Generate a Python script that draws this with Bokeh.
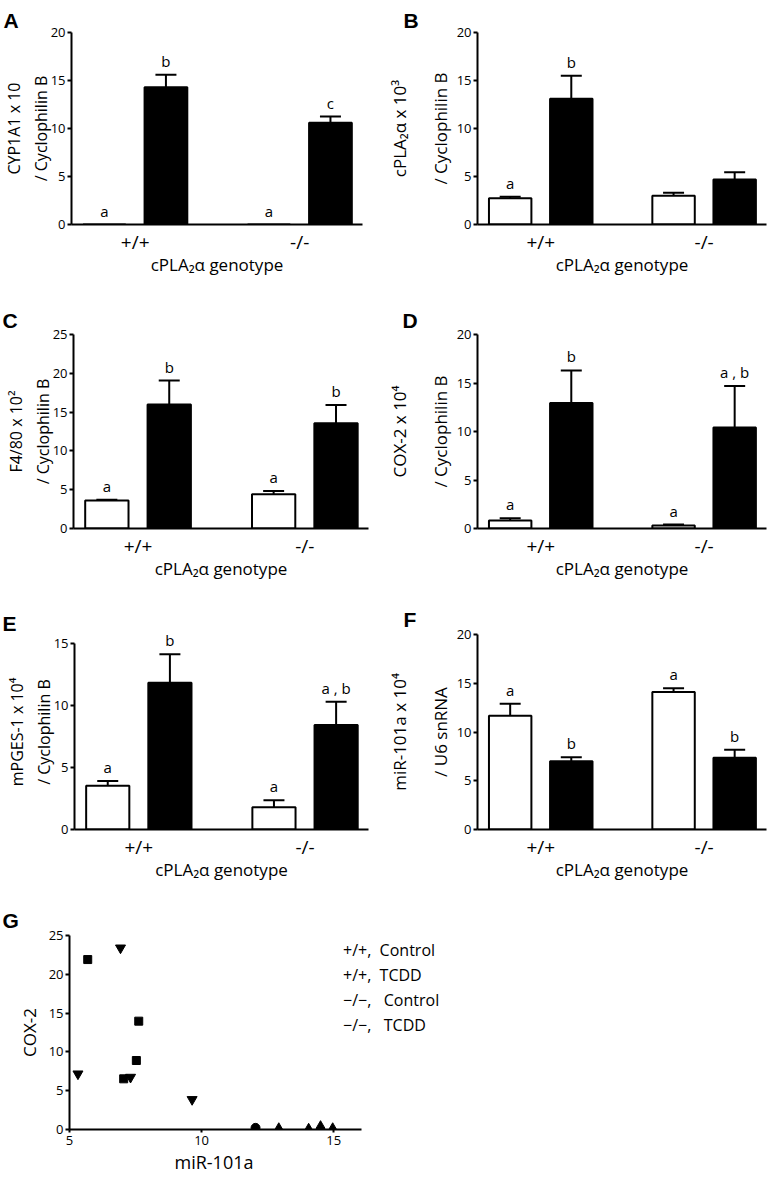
from bokeh.plotting import figure
from bokeh.models import (ColumnDataSource, Whisker, TeeHead, LabelSet, Title,
                          FixedTicker, Range1d, Legend, LegendItem)
from bokeh.layouts import column, row
from bokeh.embed import file_html
from bokeh.resources import INLINE
from bokeh.core.properties import value

FONT = "Open Sans"
LETTER_FONT = "Liberation Sans"

# ---------------- data ----------------
genotypes = ["+/+", "-/-"]
treatments = ["Control", "TCDD"]
# order of bars: +/+ Control, +/+ TCDD, -/- Control, -/- TCDD

a_mean = [0.0, 14.3, 0.0, 10.6]
a_sem = [0.0, 1.3, 0.0, 0.65]
a_sig = ["a", "b", "a", "c"]

b_mean = [2.74, 13.1, 3.0, 4.7]
b_sem = [0.14, 2.4, 0.3, 0.75]
b_sig = ["a", "b", "", ""]

c_mean = [3.6, 15.97, 4.4, 13.57]
c_sem = [0.12, 3.1, 0.44, 2.35]
c_sig = ["a", "b", "a", "b"]

d_mean = [0.82, 12.95, 0.3, 10.4]
d_sem = [0.24, 3.35, 0.1, 4.3]
d_sig = ["a", "b", "a", "a , b"]

e_mean = [3.52, 11.8, 1.8, 8.4]
e_sem = [0.38, 2.3, 0.56, 1.87]
e_sig = ["a", "b", "a", "a , b"]

f_mean = [11.66, 7.0, 14.1, 7.35]
f_sem = [1.24, 0.42, 0.4, 0.82]
f_sig = ["a", "b", "a", "b"]

# panel G scatter: miR-101a (x) vs COX-2 (y)
g_wt_ctrl_x = [12.04]
g_wt_ctrl_y = [0.21]
g_wt_tcdd_x = [5.69, 7.62, 7.53, 7.05]
g_wt_tcdd_y = [21.9, 13.96, 8.89, 6.53]
g_ko_ctrl_x = [12.92, 14.05, 14.5, 14.96]
g_ko_ctrl_y = [0.2, 0.13, 0.47, 0.2]
g_ko_tcdd_x = [6.93, 5.32, 7.31, 9.64]
g_ko_tcdd_y = [23.4, 7.17, 6.74, 3.87]
g_legend = ["+/+,  Control", "+/+,  TCDD", "\u2212/\u2212,   Control", "\u2212/\u2212,   TCDD"]

# ---------------- layout constants ----------------
X0, X1 = -0.77, 6.04
SUB_STEP, GROUP_STEP = 1.44, 3.85
BAR_W = 1.0
bar_colors = ["white", "black", "white", "black"]


def style_axes(p):
    for ax in (p.xaxis[0], p.yaxis[0]):
        ax.axis_line_width = 2
        ax.axis_line_color = "black"
        ax.major_tick_line_width = 2
        ax.major_tick_line_color = "black"
        ax.minor_tick_line_color = None
        ax.major_tick_in = 0
        ax.major_label_text_font = FONT
        ax.axis_label_text_font = FONT
        ax.axis_label_text_font_style = "normal"
        ax.major_label_text_color = "black"
        ax.axis_label_text_color = "black"
        ax.axis_label_text_font_size = "17px"
    p.yaxis[0].major_tick_out = 4
    p.yaxis[0].major_label_text_font_size = "13px"
    p.yaxis[0].major_label_standoff = 2
    p.xgrid.grid_line_color = None
    p.ygrid.grid_line_color = None
    p.outline_line_color = None


def panel_letter(p, letter, offset, standoff):
    p.title.text = letter
    p.title.text_font = LETTER_FONT
    p.title.text_font_style = "bold"
    p.title.text_font_size = "21px"
    p.title.text_color = "black"
    p.title.align = "left"
    p.title.vertical_align = "bottom"
    p.title.offset = offset
    p.title.standoff = standoff


def bar_panel(letter, ylabel, means, sems, sig, vmax, ytop, width, height,
              fl, fr, ft, fb, letter_x, standoff, yl_size, yl_lh, yl_standoff):
    p = figure(width=width, height=height, x_range=Range1d(X0, X1),
               y_range=Range1d(0, ytop), output_backend="svg",
               toolbar_location=None, min_border_left=fl,
               min_border_right=width - fr, min_border_top=ft,
               min_border_bottom=height - fb)
    xs = [g * GROUP_STEP + s * SUB_STEP for g in range(len(genotypes))
          for s in range(len(treatments))]
    src = ColumnDataSource(dict(x=xs, top=means, color=bar_colors,
                                upper=[m + s for m, s in zip(means, sems)],
                                sig=sig))
    p.vbar(x="x", top="top", width=BAR_W, bottom=0, fill_color="color",
           line_color="black", line_width=2, source=src)
    keep = [i for i, s in enumerate(sems) if s > 0]
    wsrc = ColumnDataSource(dict(x=[xs[i] for i in keep],
                                 lower=[means[i] for i in keep],
                                 upper=[means[i] + sems[i] for i in keep]))
    p.add_layout(Whisker(source=wsrc, base="x", lower="lower", upper="upper",
                         dimension="height", line_width=2, line_color="black",
                         upper_head=TeeHead(size=21, line_width=2, line_color="black"),
                         lower_head=None))
    p.add_layout(LabelSet(x="x", y="upper", text="sig", source=src,
                          text_align="center", text_baseline="alphabetic",
                          y_offset=8, text_font=value(FONT),
                          text_font_size="15px", text_color="black"))
    style_axes(p)
    centers = [g * GROUP_STEP + SUB_STEP / 2 for g in range(len(genotypes))]
    p.xaxis.ticker = FixedTicker(ticks=centers)
    p.xaxis.major_label_overrides = {c: g for c, g in zip(centers, genotypes)}
    p.xaxis.major_tick_out = 0
    p.xaxis.major_label_text_font_size = "19px"
    p.xaxis.major_label_standoff = 4
    p.xaxis.axis_label = "cPLA\u2082\u03b1 genotype"
    p.xaxis.axis_label_standoff = -5
    p.yaxis.ticker = FixedTicker(ticks=list(range(0, int(vmax) + 1, 5)))
    p.yaxis.bounds = (0, vmax)
    p.yaxis.axis_label = ylabel
    p.yaxis.axis_label_text_font_size = yl_size
    p.yaxis.axis_label_standoff = yl_standoff
    p.yaxis.axis_label_text_line_height = yl_lh
    panel_letter(p, letter, letter_x - fl, standoff)
    return p


# the page itself has no margin: canvases start at the window's top-left corner
LW, RW = 385, 383
L_ARGS = ("16px", 1.2, -4)
R_ARGS = ("17px", 1.75, 2)
pA = bar_panel("A", "CYP1A1 x 10\n/ Cyclophilin B", a_mean, a_sem, a_sig, 20, 20,
               LW, 290, 70, 362, 32, 224, 2, 2, *L_ARGS)
pB = bar_panel("B", "cPLA\u2082\u03b1 x 10\u00b3\n/ Cyclophilin B", b_mean, b_sem, b_sig, 20, 20,
               RW, 290, 88, 381, 29, 224, 14, 1, *R_ARGS)
pC = bar_panel("C", "F4/80 x 10\u00b2\n/ Cyclophilin B", c_mean, c_sem, c_sig, 25, 25,
               LW, 300, 73, 368, 44, 239, 2, 6, *L_ARGS)
pD = bar_panel("D", "COX-2 x 10\u2074\n/ Cyclophilin B", d_mean, d_sem, d_sig, 20, 20,
               RW, 300, 89, 381, 43, 238, 14, 5, *R_ARGS)
# panel E: frame reaches a little above 15 so the top letter is not clipped
pE = bar_panel("E", "mPGES-1 x 10\u2074\n/ Cyclophilin B", e_mean, e_sem, e_sig, 15, 15.69,
               LW, 300, 74, 368, 35, 239, 2, 0, *L_ARGS)
pF = bar_panel("F", "miR-101a x 10\u2074\n/ U6 snRNA", f_mean, f_sem, f_sig, 20, 20,
               RW, 300, 88, 381, 44, 239, 14, 7, *R_ARGS)

# ---------------- panel G ----------------
GW, GH = 768, 289
gfl, gax_end, gft, gfb = 69, 361, 45, 239
GX0, GX_AXIS_END, GY1 = 5, 16.05, 25
# the frame runs to the right edge so the legend text is inside it;
# the x axis line stops at GX_AXIS_END through its bounds
gx1 = GX_AXIS_END + (GW - gax_end) * (GX_AXIS_END - GX0) / (gax_end - gfl)
pG = figure(width=GW, height=GH, x_range=Range1d(GX0, gx1), y_range=Range1d(0, GY1),
            output_backend="svg", toolbar_location=None,
            min_border_left=gfl, min_border_right=0,
            min_border_top=gft, min_border_bottom=GH - gfb)
pG.scatter(g_wt_ctrl_x, g_wt_ctrl_y, marker="circle", size=9, color="black")
pG.scatter(g_wt_tcdd_x, g_wt_tcdd_y, marker="square", size=8, color="black")
pG.scatter(g_ko_ctrl_x, g_ko_ctrl_y, marker="triangle", size=9, color="black")
pG.scatter(g_ko_tcdd_x, g_ko_tcdd_y, marker="inverted_triangle", size=10, color="black")
style_axes(pG)
pG.xaxis.ticker = FixedTicker(ticks=[5, 10, 15])
pG.xaxis.bounds = (GX0, GX_AXIS_END)
pG.yaxis.ticker = FixedTicker(ticks=[0, 5, 10, 15, 20, 25])
pG.xaxis.major_tick_out = 3
pG.xaxis.major_label_text_font_size = "13px"
pG.xaxis.major_label_standoff = 3
pG.yaxis.axis_label = "COX-2"
pG.yaxis.axis_label_standoff = 5
# x axis title, centred under the visible axis line rather than the wide frame
pG.add_layout(Title(text="miR-101a", align="left", offset=105, standoff=0,
                    text_font=FONT, text_font_size="18px",
                    text_font_style="normal", text_color="black"), "below")

dummies = [pG.scatter([], [], size=1, fill_alpha=0, line_alpha=0) for _ in g_legend]
legend = Legend(items=[LegendItem(label=t, renderers=[r]) for t, r in zip(g_legend, dummies)],
                location=(273, 92), glyph_width=1, glyph_height=25, label_height=25,
                label_standoff=0, padding=0, margin=0, spacing=0,
                border_line_color=None, background_fill_alpha=0,
                label_text_font=FONT, label_text_font_size="16px",
                label_text_color="black")
pG.add_layout(legend)
panel_letter(pG, "G", 2 - gfl, 7)

layout = column(row(pA, pB), row(pC, pD), row(pE, pF), pG)
open("out.html", "w").write(file_html(layout, INLINE))
